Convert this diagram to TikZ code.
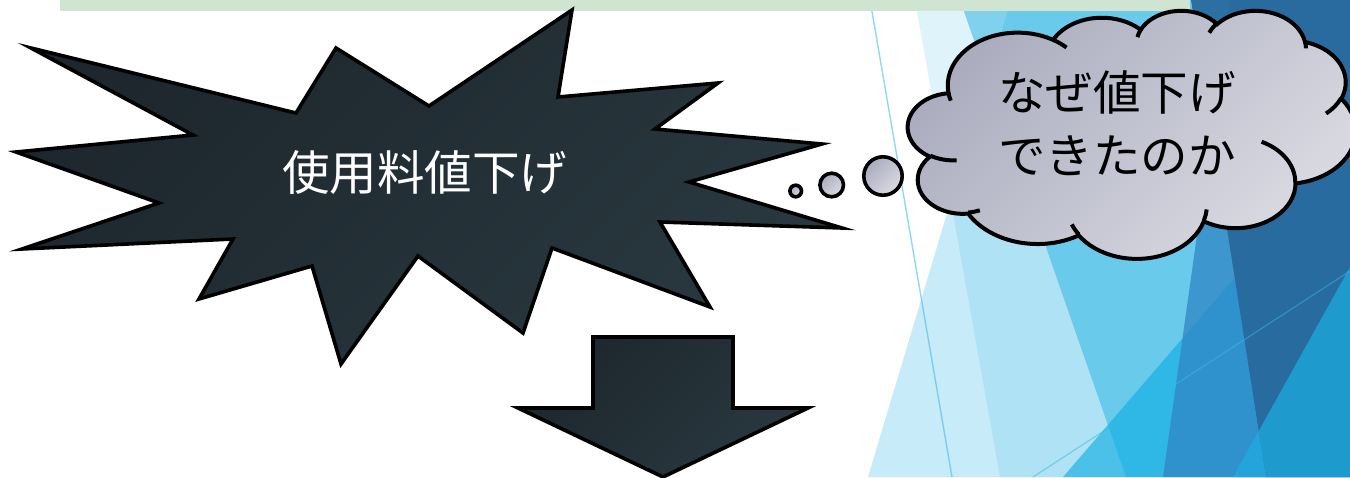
\documentclass[tikz,border=0pt]{standalone}
\usepackage{fontspec}
\newfontfamily\jpfont{Noto Sans CJK JP}
\definecolor{facet}{RGB}{55,184,230}
\definecolor{facetG}{RGB}{9,172,226}
\definecolor{facetM}{RGB}{49,136,199}
\definecolor{facetD}{RGB}{40,104,154}
\definecolor{facetE}{RGB}{30,154,205}
\definecolor{facetEs}{RGB}{35,165,219}
\definecolor{barGreen}{RGB}{208,228,210}
\definecolor{slateA}{RGB}{29,39,45}
\definecolor{slateB}{RGB}{41,56,63}
\definecolor{cloudA}{RGB}{170,172,190}
\definecolor{cloudB}{RGB}{219,219,227}
\newcommand\cldcalc[4]{%
  \pgfmathsetmacro\cldtmpA{atan2((#1)*sin(#3),(#2)*cos(#3))}%
  \pgfmathsetmacro\cldtmpB{atan2((#1)*sin((#3)+(#4)),(#2)*cos((#3)+(#4)))}%
  \pgfmathsetmacro\cldtmpD{mod(\cldtmpB-(\cldtmpA)+720,360)}%
  \global\let\cldA\cldtmpA
  \global\let\cldD\cldtmpD}
\newcommand\cldarc[4]{\pgfextra{\cldcalc{#1}{#2}{#3}{#4}} arc[start angle=\cldA, delta angle=\cldD, x radius=#1, y radius=#2]}
\begin{document}
\begin{tikzpicture}[x=0.5pt,y=-0.5pt,
  slate/.style={draw=black,line width=1.8pt,line join=miter,top color=slateA,bottom color=slateB,shading angle=45},
  cloudfill/.style={draw=black,line width=2pt,top color=cloudA,bottom color=cloudB,shading angle=45},
  bubble/.style={circle,draw=black,line width=1.8pt,inner sep=0pt,top color=cloudA,bottom color=cloudB,shading angle=45},
  jptext/.style={font=\jpfont\fontsize{23.75}{31.5}\selectfont,inner sep=0pt}]
\useasboundingbox (0,0) rectangle (1350,477);
\clip (0,0) rectangle (1350,477);
% background facets
\fill[white] (0,0) rectangle (1350,477);
\fill[facet,opacity=0.16] (915,0) -- (1350,0) -- (1350,477) -- (1000,477) -- cycle;
\fill[facet,opacity=0.57] (960,0) -- (1350,0) -- (1350,477) -- (1126,477) -- cycle;
\fill[facet,opacity=0.28] (1011,0) -- (1350,0) -- (1350,477) -- (868,477) -- cycle;
\fill[facetG,opacity=0.6] (1063,477) -- (1350,144) -- (1350,477) -- cycle;
\fill[facetM,opacity=0.78] (1230,0) -- (1350,0) -- (1350,477) -- (1163,477) -- cycle;
\fill[facetD,opacity=0.92] (1191,0) -- (1350,0) -- (1350,477) -- (1266,477) -- cycle;
\fill[facetEs] (1233,477) -- (1258.7,431) -- (1266,477) -- cycle;
\fill[facetE] (1258.7,431) -- (1350,267) -- (1350,477) -- (1266,477) -- cycle;
\draw[facet,opacity=0.55,line width=0.7pt] (870,0) -- (952,477);
\draw[facet,opacity=0.5,line width=0.6pt] (1033,477) -- (1350,271);
% title bar
\fill[barGreen] (60,0) rectangle (1190,11);
% explosion
\draw[slate] (31,48) -- (296,113) -- (336,48) -- (429,106) -- (572,10) -- (558,97)
  -- (718,83) -- (655,129) -- (822,144) -- (689,182) -- (842,228) -- (660,222)
  -- (710,307) -- (552,248) -- (523,333) -- (418,256) -- (341,364) -- (312,266)
  -- (199,299) -- (233,239) -- (22,249) -- (159,203) -- (16,152) -- (193,135) -- cycle;
\node[jptext,text=white] (main) at (424.5,172.5) {使用料値下げ};
% down arrow
\draw[slate] (593,337) -- (733,337) -- (733,408) -- (808,408) -- (663,477)
  -- (518,408) -- (593,408) -- cycle;
% thought bubbles
\node[bubble,minimum size=5.8pt] (b1) at (795.7,191) {};
\node[bubble,minimum size=11.8pt] (b2) at (831.7,185) {};
\node[bubble,minimum size=19.2pt] (b3) at (883,176) {};
% cloud
\begin{scope}[shift={(908,10)}]
\begin{scope}[x=0.0518pt,y=-0.0287pt]
\draw[cloudfill] (390,1437)
  \cldarc{675.3}{919}{-190.4875}{123.7805}
  \cldarc{533.3}{726.7}{-144.1024}{89.9452}
  \cldarc{436.5}{594.5}{-145.8079}{99.7230}
  \cldarc{485.7}{659.5}{-130.9861}{117.2417}
  \cldarc{533.3}{727.3}{-78.7089}{109.0269}
  \cldarc{677.5}{922}{-46.2673}{130.2690}
  \cldarc{578.5}{786.7}{0.6250}{114.0333}
  \cldarc{675.2}{921.5}{22.4516}{115.1726}
  \cldarc{772}{1054.3}{66.2426}{75.7110}
  \cldarc{436}{591.8}{-274.9421}{146.7356}
  \cldarc{434.5}{594.5}{-246.8285}{152.5189}
  -- cycle;
\draw[black,line width=2pt]
  (469.3,2617.7) \cldarc{434.5}{594.5}{86.7420}{26.4295}
  (692.8,3489.9) \cldarc{436}{591.8}{73.6105}{11.4475}
  (1647.8,3909) \cldarc{675.2}{921.5}{137.6242}{14.0811}
  (2882.7,3475.1) \cldarc{675.2}{921.5}{6.4533}{15.9984}
  (3412.9,2295.4) \cldarc{578.5}{786.7}{-70.2924}{70.9174}
  (4179.8,1535.4) \cldarc{533.3}{727.3}{30.3180}{27.7515}
  (3832.4,542.6) \cldarc{485.7}{659.5}{-13.7443}{14.8589}
  (2907.8,395.2) \cldarc{485.7}{659.5}{-149.1815}{18.1954}
  (2214.1,472) \cldarc{436.5}{594.5}{-163.4943}{17.6864}
  (1400,519.2) \cldarc{675.3}{919}{-66.7070}{12.3194}
  (412.7,1578.9) \cldarc{675.3}{919}{157.6544}{11.8582};
\end{scope}
\end{scope}
\node[jptext,text=black,align=center] (why) at (1117,123) {なぜ値下げ\\できたのか};
\end{tikzpicture}
\end{document}
